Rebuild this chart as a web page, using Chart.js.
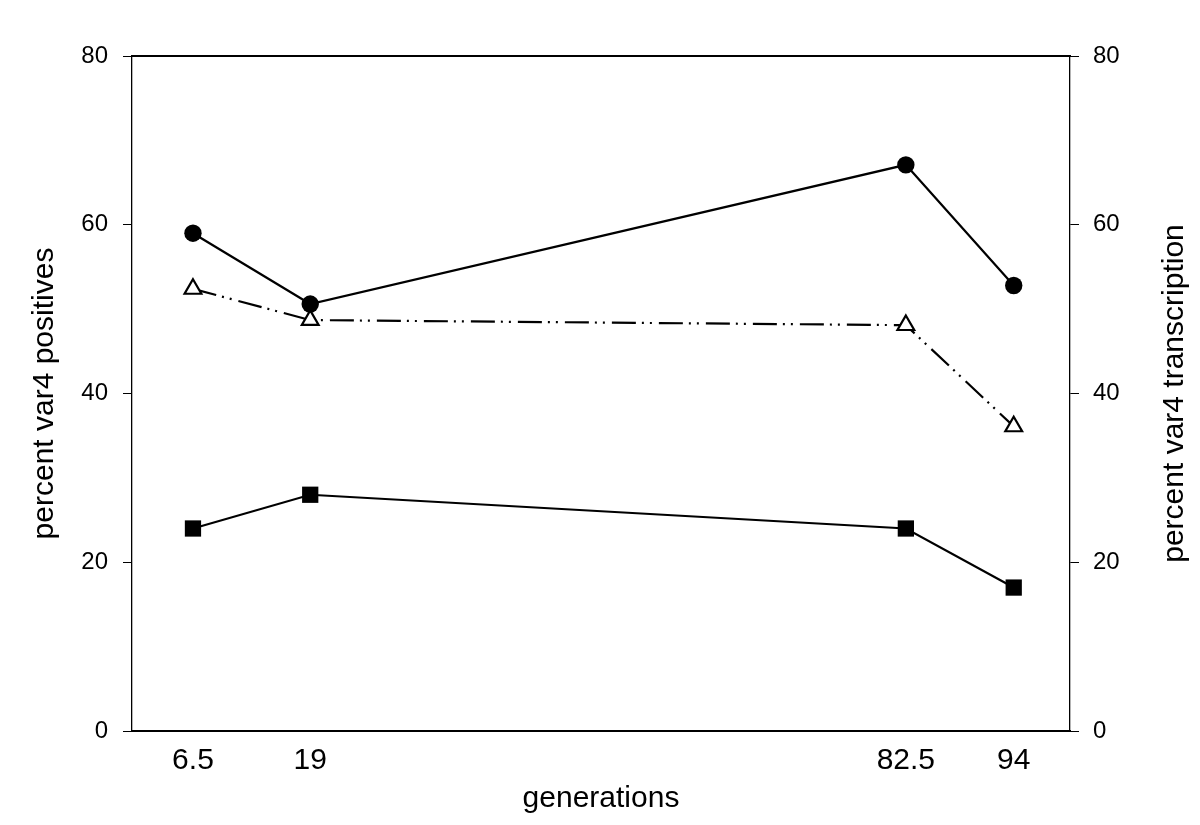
<!DOCTYPE html>
<html>
<head>
<meta charset="utf-8">
<script src="https://cdn.jsdelivr.net/npm/chart.js@4"></script>
<style>
  html, body { margin:0; padding:0; background:#fff; }
  #wrap { width:1200px; height:825px; }
</style>
</head>
<body>
<div id="wrap"><canvas id="chart" width="1200" height="825"></canvas></div>
<script>
// values
const generations = [6.5, 19, 82.5, 94];
const positives = [59, 50.6, 67.1, 52.8];        // filled circles
const transcription = [52.4, 48.7, 48.1, 36.1];  // open triangles, dash-dot-dot
const squares = [24, 28, 24, 17];                // filled squares
const yTicks = [0, 20, 40, 60, 80];

const FONT = '"Liberation Sans", Arial, Helvetica, sans-serif';

function pts(ys){ return generations.map((g,i)=>({x:g, y:ys[i]})); }

// right axis title reads bottom-to-top like the left one
const rightTitle = {
  id:'rightTitle',
  afterDraw(chart){
    const ctx = chart.ctx, a = chart.chartArea;
    ctx.save();
    ctx.translate(1183, (a.top + a.bottom)/2);
    ctx.rotate(-Math.PI/2);
    ctx.font = '30px ' + FONT;
    ctx.fillStyle = '#000';
    ctx.textAlign = 'center';
    ctx.textBaseline = 'alphabetic';
    ctx.fillText('percent var4 transcription', 0, 0);
    ctx.restore();
  }
};

const yAxisBase = {
  type:'linear', min:0, max:80,
  afterBuildTicks: s => { s.ticks = yTicks.map(v=>({value:v})); },
  grid:{ drawOnChartArea:false, drawTicks:true, tickLength:9, color:'#000', lineWidth:1 },
  border:{ display:true, color:'#000', width:1.3 },
  ticks:{ color:'#000', font:{ family:FONT, size:24 } }
};

new Chart(document.getElementById('chart'), {
  type:'line',
  data:{
    datasets:[
      { label:'positives', data:pts(positives), yAxisID:'y',
        borderColor:'#000', borderWidth:2.2, backgroundColor:'#000',
        pointStyle:'circle', pointRadius:8.7, pointBackgroundColor:'#000', pointBorderWidth:0 },
      { label:'transcription', data:pts(transcription), yAxisID:'y2',
        borderColor:'#000', borderWidth:2.2, borderDash:[24,6,2,6,2,7],
        pointStyle:'triangle', pointRadius:9.7, pointBackgroundColor:'#fff', pointBorderColor:'#000', pointBorderWidth:2.2 },
      { label:'squares', data:pts(squares), yAxisID:'y',
        borderColor:'#000', borderWidth:2.2, backgroundColor:'#000',
        pointStyle:'rect', pointRadius:11.5, pointBackgroundColor:'#000', pointBorderWidth:0 }
    ]
  },
  options:{
    responsive:false,
    animation:false,
    layout:{ padding:0 },
    plugins:{ legend:{ display:false }, tooltip:{ enabled:false } },
    elements:{ line:{ tension:0, borderCapStyle:'butt' } },
    scales:{
      x:{
        type:'linear', position:'bottom', min:0, max:100,
        afterBuildTicks: s => { s.ticks = generations.map(v=>({value:v})); },
        afterFit: s => { s.height = 94; },
        grid:{ display:false, drawTicks:false },
        border:{ display:true, color:'#000', width:2 },
        ticks:{ color:'#000', autoSkip:false, maxRotation:0, padding:12,
                font:{ family:FONT, size:30 }, callback: v => String(v) },
        title:{ display:true, text:'generations', color:'#000',
                font:{ family:FONT, size:30 }, padding:{ top:0, bottom:8 } }
      },
      xTop:{
        type:'linear', position:'top', min:0, max:100,
        afterFit: s => { s.height = 56; },
        grid:{ display:false, drawTicks:false },
        border:{ display:true, color:'#000', width:2 },
        ticks:{ display:false }
      },
      y: Object.assign({}, yAxisBase, {
        position:'left',
        afterFit: s => { s.width = 132; },
        ticks:{ color:'#000', padding:15, font:{ family:FONT, size:24 } },
        title:{ display:true, text:'percent var4 positives', color:'#000',
                font:{ family:FONT, size:30 }, padding:{ top:27, bottom:0 } }
      }),
      y2: Object.assign({}, yAxisBase, {
        position:'right',
        afterFit: s => { s.width = 130; },
        ticks:{ color:'#000', padding:14, font:{ family:FONT, size:24 } },
        title:{ display:false }
      })
    }
  },
  plugins:[rightTitle]
});
</script>
</body>
</html>
